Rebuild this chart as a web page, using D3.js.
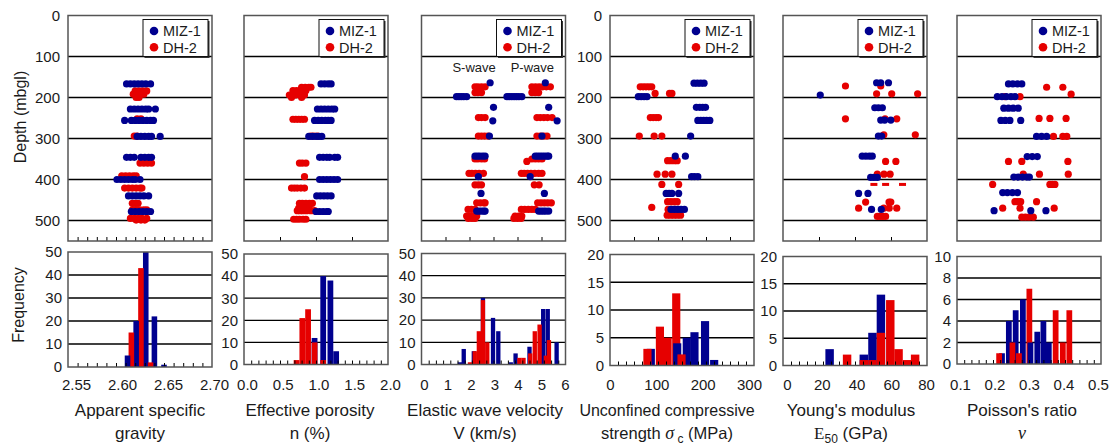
<!DOCTYPE html>
<html>
<head>
<meta charset="utf-8">
<script src="https://cdn.jsdelivr.net/npm/d3@7"></script>
<style>
body { margin: 0; background: #fff; }
text { font-family: 'Liberation Sans', Arial, sans-serif; fill: #1a1a1a; }
</style>
</head>
<body>
<svg width="1114" height="447"></svg>
<script>
const seriesNames = ['MIZ-1', 'DH-2'];
const depthTicks = [0, 100, 200, 300, 400, 500];

// Apparent specific gravity
const sgTicks = [2.55, 2.60, 2.65, 2.70];
const sgFreqTicks = [0, 10, 20, 30, 40, 50];
const sgMiz = [
    [167, [2.611, 2.615, 2.619, 2.623, 2.627, 2.631, 2.636]],
    [228, [2.615, 2.619, 2.623, 2.627, 2.631, 2.634, 2.641]],
    [256, [2.609, 2.616, 2.620, 2.624, 2.628, 2.632, 2.636, 2.639]],
    [295, [2.622, 2.626, 2.630, 2.634, 2.637, 2.646]],
    [346, [2.611, 2.615, 2.619, 2.626, 2.630, 2.634, 2.637]],
    [400, [2.601, 2.605, 2.609, 2.613, 2.617, 2.620, 2.625]],
    [440, [2.613, 2.617, 2.621, 2.625, 2.629, 2.634]],
    [478, [2.616, 2.620, 2.624, 2.628, 2.632, 2.636]]
];
const sgDh = [
    [184, [2.620, 2.624, 2.628, 2.632]],
    [192, [2.618, 2.622, 2.626, 2.629]],
    [200, [2.621, 2.624]],
    [252, [2.622, 2.626]],
    [294, [2.619, 2.622]],
    [360, [2.625, 2.629, 2.633, 2.637]],
    [391, [2.606, 2.610, 2.614, 2.618, 2.621]],
    [421, [2.609, 2.613, 2.617, 2.621, 2.625, 2.627]],
    [458, [2.617, 2.620, 2.623]],
    [474, [2.617, 2.621, 2.625, 2.629, 2.632]],
    [495, [2.615, 2.619, 2.623, 2.627, 2.632]],
    [499, [2.621, 2.626, 2.630]]
];
const sgHistMiz = [[2.612, 5], [2.621, 20], [2.631, 50], [2.640, 22], [2.650, 1]];
const sgHistDh = [[2.616, 15], [2.626, 43], [2.636, 2]];

// Effective porosity
const pnTicks = [0.0, 0.5, 1.0, 1.5, 2.0];
const pnFreqTicks = [0, 10, 20, 30, 40, 50];
const pnMiz = [
    [167, [1.07, 1.12, 1.17, 1.21]],
    [228, [1.02, 1.07, 1.12, 1.17, 1.22, 1.26]],
    [256, [0.98, 1.03, 1.08, 1.13, 1.17, 1.21]],
    [295, [0.90, 0.95, 1.00, 1.04, 1.08]],
    [346, [1.05, 1.10, 1.15, 1.19, 1.26, 1.30]],
    [400, [1.05, 1.10, 1.15, 1.20, 1.25, 1.30]],
    [440, [1.01, 1.06, 1.11, 1.16, 1.21]],
    [478, [1.00, 1.05, 1.10, 1.15, 1.17]]
];
const pnDh = [
    [175, [0.80, 0.85, 0.90, 0.93]],
    [183, [0.68, 0.73, 0.78, 0.82, 0.86]],
    [194, [0.63, 0.67, 0.72, 0.80, 0.84]],
    [200, [0.66, 0.80]],
    [253, [0.68, 0.72, 0.76, 0.80, 0.84]],
    [294, [0.93, 0.97, 1.02]],
    [360, [0.77, 0.81, 0.86]],
    [393, [0.84]],
    [421, [0.66, 0.70, 0.74, 0.79, 0.84]],
    [458, [0.77, 0.81, 0.86, 0.91, 0.95]],
    [470, [0.76, 0.84, 0.90]],
    [476, [0.74, 0.78, 0.82, 0.87, 0.93, 0.98]],
    [497, [0.69, 0.73, 0.77, 0.82, 0.86]]
];
const pnHistMiz = [[0.98, 12], [1.10, 40], [1.20, 38], [1.28, 6]];
const pnHistDh = [[0.73, 2], [0.81, 21], [0.89, 25], [0.98, 10], [1.10, 2]];

// Elastic wave velocity
const vTicks = [0, 1, 2, 3, 4, 5, 6];
const vFreqTicks = [0, 10, 20, 30, 40, 50];
const vMiz = [
    [164, [2.86, 5.16]],
    [198, [1.46, 1.56, 1.66, 1.76, 1.88, 3.56, 3.66, 3.76, 3.86, 3.96, 4.06, 4.18]],
    [224, [3.00, 5.30]],
    [257, [2.97, 5.65]],
    [294, [2.83, 5.02]],
    [343, [2.23, 2.33, 2.43, 2.55, 2.65, 4.74, 4.84, 4.94, 5.04, 5.14, 5.24, 5.30]],
    [393, [2.37, 4.53]],
    [434, [2.48, 5.12]],
    [477, [2.30, 2.40, 2.50, 2.60, 2.65, 4.88, 4.98, 5.08, 5.18, 5.30]]
];
const vDh = [
    [174, [2.23, 2.35, 2.50, 2.65, 4.60, 4.75, 4.90, 5.05, 5.20, 5.37]],
    [188, [2.23, 2.35, 2.50, 4.60, 4.74, 4.88]],
    [249, [2.37, 2.50, 2.65, 4.81, 4.95, 5.10, 5.25, 5.44]],
    [294, [2.37, 2.50, 2.63, 2.77, 4.81, 4.95, 5.10, 5.23]],
    [350, [2.23, 2.35, 2.50, 2.63, 4.60, 4.74, 4.88, 5.02]],
    [356, [4.39]],
    [385, [1.98, 2.10, 2.25, 2.40, 2.58, 4.16, 4.28, 4.42, 4.56, 4.72, 4.88, 5.02]],
    [413, [2.23, 2.37, 2.50, 4.70, 4.90]],
    [457, [2.30, 2.45, 2.60, 2.65, 4.84, 4.98, 5.12, 5.26, 5.41]],
    [473, [1.94, 2.08, 2.23, 4.16, 4.30, 4.45, 4.60, 4.74]],
    [489, [1.88, 2.00, 2.15, 2.30, 3.90, 4.05, 4.18]],
    [495, [1.95, 2.10, 2.23, 3.85, 4.00, 4.15]]
];
const vHistMiz = [[1.60, 1], [1.76, 7], [2.18, 6], [2.56, 30], [2.98, 21], [3.20, 15], [3.72, 1], [3.92, 5], [4.50, 8], [5.07, 25], [5.26, 25], [5.63, 10]];
const vHistDh = [[2.02, 1], [2.22, 6], [2.39, 15], [2.56, 29], [2.74, 10], [4.08, 3], [4.25, 3], [4.53, 5], [4.72, 15], [4.92, 18], [5.18, 4], [5.31, 11]];
const waveLabels = [['S-wave', 2.19], ['P-wave', 4.62]];

// Unconfined compressive strength
const ucsTicks = [0, 100, 200, 300];
const ucsFreqTicks = [0, 5, 10, 15, 20];
const ucsMiz = [
    [165, [175, 182, 189, 196]],
    [198, [59, 65, 71, 77]],
    [224, [180, 187, 193, 199]],
    [256, [183, 189, 195, 201, 208]],
    [294, [168]],
    [343, [136, 157]],
    [393, [170, 176, 183]],
    [434, [117, 123, 129, 143]],
    [473, [127, 134, 141, 148, 155]]
];
const ucsDh = [
    [174, [63, 69, 75, 81, 87]],
    [190, [94, 124, 129]],
    [249, [84, 90, 96, 101]],
    [294, [61, 92, 108]],
    [354, [120, 127, 134, 140]],
    [387, [98, 115, 129]],
    [412, [108, 143]],
    [454, [120, 127, 134, 140]],
    [468, [87]],
    [473, [121, 128, 135, 142]],
    [487, [119, 126, 133, 140, 147]]
];
const ucsHistMiz = [[85, 3], [140, 4], [160, 5], [176, 6], [198, 8], [217, 1]];
const ucsHistDh = [[78, 3], [104, 7], [120, 5], [138, 13], [149, 2]];

// Young's modulus
const emTicks = [0, 20, 40, 60, 80];
const emFreqTicks = [0, 5, 10, 15, 20];
const emMiz = [
    [164, [52, 54.3, 58.6]],
    [194, [20.7]],
    [225, [51, 53, 55.2]],
    [255, [54.3, 56.5, 59.9]],
    [294, [53, 54.8]],
    [343, [44, 46, 48, 49.6]],
    [395, [48.7, 50.5, 52.4]],
    [434, [42, 47.2]],
    [473, [49.2, 54.6]]
];
const emDh = [
    [172, [34.7, 54.3]],
    [191, [52, 60.4, 74.8]],
    [252, [34.7, 56.7, 63.2]],
    [291, [56, 73.5]],
    [356, [57, 62.7]],
    [387, [52.4, 56.1, 59.5]],
    [455, [45.9, 58.9, 59.9]],
    [470, [42, 56, 59, 63.2]],
    [490, [52.4, 54, 55.5, 57]]
];
const emDhDash = [[412, [50.5, 57, 66.4]]];
const emHistMiz = [[25.9, 3], [44.9, 2], [49.7, 6], [54.4, 13]];
const emHistDh = [[35.6, 2], [44.9, 1], [49.7, 1], [54.4, 6], [59.6, 12], [64.2, 3], [68.9, 1], [73.4, 2]];

// Poisson's ratio
const prTicks = [0.1, 0.2, 0.3, 0.4, 0.5];
const prFreqTicks = [0, 2, 4, 6, 8, 10];
const prMiz = [
    [167, [0.243, 0.255, 0.268, 0.280]],
    [198, [0.212, 0.225, 0.237, 0.250, 0.261]],
    [226, [0.230, 0.243, 0.256, 0.270]],
    [256, [0.222, 0.234, 0.247, 0.277]],
    [295, [0.321, 0.335, 0.349]],
    [344, [0.295, 0.309, 0.323]],
    [394, [0.258, 0.270, 0.282, 0.294, 0.301]],
    [432, [0.227, 0.240, 0.254, 0.268]],
    [476, [0.203, 0.305, 0.347]]
];
const prDh = [
    [175, [0.349, 0.394]],
    [192, [0.417]],
    [198, [0.233, 0.275]],
    [251, [0.328, 0.358, 0.403]],
    [295, [0.368, 0.394, 0.405]],
    [356, [0.243, 0.280, 0.408]],
    [387, [0.284, 0.329, 0.409]],
    [412, [0.199, 0.358, 0.365, 0.372]],
    [454, [0.261, 0.269, 0.277, 0.321]],
    [470, [0.227, 0.275, 0.370]],
    [492, [0.280, 0.290, 0.300, 0.312]]
];
const prHistMiz = [[0.225, 1], [0.244, 4], [0.263, 5], [0.283, 6], [0.304, 2], [0.323, 3], [0.340, 4], [0.355, 2]];
const prHistDh = [[0.217, 1], [0.254, 2], [0.272, 1], [0.301, 7], [0.374, 5], [0.394, 2], [0.412, 5]];

function main() {
    let svg = d3.select('svg');
    let blue = '#00008f',
        red = '#e60000',
        frameColor = '#555',
        panelW = 144;

    let yDepth = d3.scaleLinear().domain([0, 550]).range([15.5, 241]);

    let panels = [
        { left: 68, domain: [2.55, 2.70], ticks: sgTicks, fmt: d3.format('.2f'), labelRange: [76, 214],
          miz: sgMiz, dh: sgDh, histMiz: sgHistMiz, histDh: sgHistDh, barW: 0.0058,
          freqTicks: sgFreqTicks, hist: [367, 252], minor: 0.01, topMinor: 0.01, depthAxis: true,
          titleX: 140, titleSize: [17, 17], title: [[['Apparent specific']], [['gravity']]] },
        { left: 244, domain: [0, 2], ticks: pnTicks, fmt: d3.format('.1f'), labelRange: [247, 390],
          miz: pnMiz, dh: pnDh, histMiz: pnHistMiz, histDh: pnHistDh, barW: 0.08,
          freqTicks: pnFreqTicks, hist: [364.5, 254], minor: 0.1, topMinor: 0.5,
          titleX: 310, titleSize: [17, 17], title: [[['Effective porosity']], [['n (%)']]] },
        { left: 421.5, domain: [0, 6], ticks: vTicks, fmt: d3.format('d'), labelRange: [424, 565],
          miz: vMiz, dh: vDh, histMiz: vHistMiz, histDh: vHistDh, barW: 0.18,
          freqTicks: vFreqTicks, hist: [364.5, 253.5], minor: 0.3, topMinor: 1,
          titleX: 485, titleSize: [17, 17], title: [[['Elastic wave velocity']], [['V (km/s)']]] },
        { left: 610, domain: [0, 300], ticks: ucsTicks, fmt: d3.format('d'), labelRange: [610, 749],
          miz: ucsMiz, dh: ucsDh, histMiz: ucsHistMiz, histDh: ucsHistDh, barW: 17,
          freqTicks: ucsFreqTicks, hist: [365.5, 254.5], minor: 50 / 3, topMinor: 50, depthAxis: true,
          titleX: 667, titleSize: [16, 16.5], title: [[['Unconfined compressive']],
              [['strength '], ['σ', 'sigma'], [' c', 'sub'], [' (MPa)', 'after']]] },
        { left: 783, domain: [0, 80], ticks: emTicks, fmt: d3.format('d'), labelRange: [787, 926],
          miz: emMiz, dh: emDh, dash: emDhDash, histMiz: emHistMiz, histDh: emHistDh, barW: 4.7,
          freqTicks: emFreqTicks, hist: [365.5, 256.5], minor: 80 / 18, topMinor: 20,
          titleX: 851, titleSize: [17, 17], title: [[["Young's modulus"]], [['E', 'serif'], ['50', 'sub'], [' (GPa)', 'after']]] },
        { left: 957, domain: [0.1, 0.5], ticks: prTicks, fmt: d3.format('.1f'), labelRange: [960, 1098],
          miz: prMiz, dh: prDh, histMiz: prHistMiz, histDh: prHistDh, barW: 0.016,
          freqTicks: prFreqTicks, hist: [364, 256.5], minor: 0.02, topMinor: null,
          titleX: 1022, titleSize: [17, 17], title: [[["Poisson's ratio"]], [['ν', 'nu']]] }
    ];

    let flat = (rows) => rows.flatMap((r) => r[1].map((v) => ({ v: v, d: r[0] })));

    panels.forEach((p, pi) => {
        let x = d3.scaleLinear().domain(p.domain).range([p.left, p.left + panelW]);
        let xLabel = d3.scaleLinear().domain(p.domain).range(p.labelRange);
        let yFreq = d3.scaleLinear().domain([0, d3.max(p.freqTicks)]).range(p.hist);
        let g = svg.append('g');

        //Top panel gridlines
        g.selectAll('.dgrid')
            .data(depthTicks.slice(1))
            .enter()
            .append('line')
            .attr('x1', p.left)
            .attr('x2', p.left + panelW)
            .attr('y1', (d) => yDepth(d))
            .attr('y2', (d) => yDepth(d))
            .attr('stroke', '#000')
            .attr('stroke-width', 1.3);

        //Top panel minor ticks
        if (p.topMinor) {
            let tv = d3.range(p.domain[0] + p.topMinor, p.domain[1] - p.topMinor / 2, p.topMinor);
            g.append('g')
                .attr('transform', 'translate(0,' + yDepth(550) + ')')
                .call(d3.axisBottom(x).tickValues(tv).tickSize(-4).tickFormat(''))
                .call((a) => a.select('.domain').remove())
                .selectAll('line').attr('stroke', '#000');
        }

        //Dots
        g.selectAll('.dh')
            .data(flat(p.dh))
            .enter()
            .append('circle')
            .attr('cx', (d) => x(d.v))
            .attr('cy', (d) => yDepth(d.d))
            .attr('r', 3.6)
            .attr('fill', red);
        if (p.dash) {
            g.selectAll('.dash')
                .data(flat(p.dash))
                .enter()
                .append('rect')
                .attr('x', (d) => x(d.v) - 3.5)
                .attr('y', (d) => yDepth(d.d) - 1.5)
                .attr('width', 7)
                .attr('height', 3)
                .attr('fill', red);
        }
        g.selectAll('.miz')
            .data(flat(p.miz))
            .enter()
            .append('circle')
            .attr('cx', (d) => x(d.v))
            .attr('cy', (d) => yDepth(d.d))
            .attr('r', 3.6)
            .attr('fill', blue);

        //Frame
        g.append('rect')
            .attr('x', p.left)
            .attr('y', yDepth(0))
            .attr('width', panelW)
            .attr('height', yDepth(550) - yDepth(0))
            .attr('fill', 'none')
            .attr('stroke', frameColor)
            .attr('stroke-width', 1.5);

        //Legend
        let lx = p.left + panelW - 69,
            ly = yDepth(0) + 4;
        g.append('rect')
            .attr('x', lx + 1.5).attr('y', ly + 1.5)
            .attr('width', 65).attr('height', 37)
            .attr('fill', '#333');
        g.append('rect')
            .attr('x', lx).attr('y', ly)
            .attr('width', 65).attr('height', 37)
            .attr('fill', '#fff')
            .attr('stroke', '#111')
            .attr('stroke-width', 1);
        seriesNames.forEach((name, i) => {
            g.append('circle')
                .attr('cx', lx + 11)
                .attr('cy', ly + 11.5 + i * 16.3)
                .attr('r', 4.3)
                .attr('fill', i === 0 ? blue : red);
            g.append('text')
                .attr('x', lx + 20)
                .attr('y', ly + 11.5 + i * 16.3)
                .attr('dy', '0.36em')
                .style('font-size', '14.5px')
                .text(name);
        });

        if (pi === 2) {
            g.selectAll('.wave')
                .data(waveLabels)
                .enter()
                .append('text')
                .attr('x', (d) => x(d[1]))
                .attr('y', yDepth(126))
                .attr('dy', '0.35em')
                .attr('text-anchor', 'middle')
                .style('font-size', '13px')
                .text((d) => d[0]);
        }

        //Depth axis
        if (p.depthAxis) {
            g.append('g')
                .attr('transform', 'translate(' + (p.left - 8) + ',0)')
                .call(d3.axisLeft(yDepth).tickValues(depthTicks).tickSize(0).tickPadding(0))
                .call((a) => a.select('.domain').remove())
                .selectAll('text')
                .style('font-size', '15px')
                .style('font-family', "'Liberation Sans', Arial, sans-serif")
                .attr('fill', '#1a1a1a');
        }

        //Histogram gridlines
        g.selectAll('.fgrid')
            .data(p.freqTicks.slice(1, -1))
            .enter()
            .append('line')
            .attr('x1', p.left)
            .attr('x2', p.left + panelW)
            .attr('y1', (d) => yFreq(d))
            .attr('y2', (d) => yFreq(d))
            .attr('stroke', '#000')
            .attr('stroke-width', 1.3);

        //Histogram bars, taller bars behind
        let bars = p.histMiz.map((d) => ({ c: d[0], n: d[1], col: blue }))
            .concat(p.histDh.map((d) => ({ c: d[0], n: d[1], col: red })))
            .sort((a, b) => b.n - a.n);
        g.selectAll('.bar')
            .data(bars)
            .enter()
            .append('rect')
            .attr('x', (d) => x(d.c - p.barW / 2))
            .attr('y', (d) => yFreq(d.n))
            .attr('width', (d) => x(d.c + p.barW / 2) - x(d.c - p.barW / 2))
            .attr('height', (d) => yFreq(0) - yFreq(d.n))
            .attr('fill', (d) => d.col);

        //Histogram minor ticks
        let hv = d3.range(p.domain[0] + p.minor, p.domain[1] - p.minor / 2, p.minor);
        g.append('g')
            .attr('transform', 'translate(0,' + yFreq(0) + ')')
            .call(d3.axisBottom(x).tickValues(hv).tickSize(-4).tickFormat(''))
            .call((a) => a.select('.domain').remove())
            .selectAll('line').attr('stroke', '#000');

        //Histogram frame
        g.append('rect')
            .attr('x', p.left)
            .attr('y', yFreq(d3.max(p.freqTicks)))
            .attr('width', panelW)
            .attr('height', yFreq(0) - yFreq(d3.max(p.freqTicks)))
            .attr('fill', 'none')
            .attr('stroke', frameColor)
            .attr('stroke-width', 1.5);

        //Frequency axis
        g.append('g')
            .attr('transform', 'translate(' + (p.left - 6) + ',0)')
            .call(d3.axisLeft(yFreq).tickValues(p.freqTicks).tickSize(0).tickPadding(0))
            .call((a) => a.select('.domain').remove())
            .selectAll('text')
            .style('font-size', '15px')
            .style('font-family', "'Liberation Sans', Arial, sans-serif")
            .attr('fill', '#1a1a1a');

        //X labels
        g.append('g')
            .attr('transform', 'translate(0,' + 379 + ')')
            .call(d3.axisBottom(xLabel).tickValues(p.ticks).tickSize(0).tickPadding(0).tickFormat(p.fmt))
            .call((a) => a.select('.domain').remove())
            .selectAll('text')
            .style('font-size', '15px')
            .style('font-family', "'Liberation Sans', Arial, sans-serif")
            .attr('fill', '#1a1a1a');

        //Title
        p.title.forEach((line, li) => {
            let t = g.append('text')
                .attr('x', p.titleX)
                .attr('y', 416 + li * 23)
                .attr('text-anchor', 'middle')
                .style('font-size', p.titleSize[li] + 'px');
            line.forEach((part) => {
                let s = t.append('tspan').text(part[0]);
                if (part[1] === 'sub') s.style('font-size', '12px').attr('dy', 4);
                if (part[1] === 'after') s.attr('dy', -4);
                if (part[1] === 'sigma') s.style('font-family', "'Liberation Serif', serif").style('font-style', 'italic').style('font-size', '18px');
                if (part[1] === 'serif') s.style('font-family', "'Liberation Serif', serif");
                if (part[1] === 'nu') s.style('font-family', "'Liberation Serif', serif").style('font-style', 'italic').style('font-size', '18px');
            });
        });
    });

    //Axis titles
    svg.append('text')
        .attr('transform', 'translate(20,117) rotate(-90)')
        .attr('text-anchor', 'middle')
        .attr('dy', '0.35em')
        .style('font-size', '16px')
        .text('Depth (mbgl)');
    svg.append('text')
        .attr('transform', 'translate(18,305) rotate(-90)')
        .attr('text-anchor', 'middle')
        .attr('dy', '0.35em')
        .style('font-size', '16px')
        .text('Frequency');
}

main();
</script>
</body>
</html>
